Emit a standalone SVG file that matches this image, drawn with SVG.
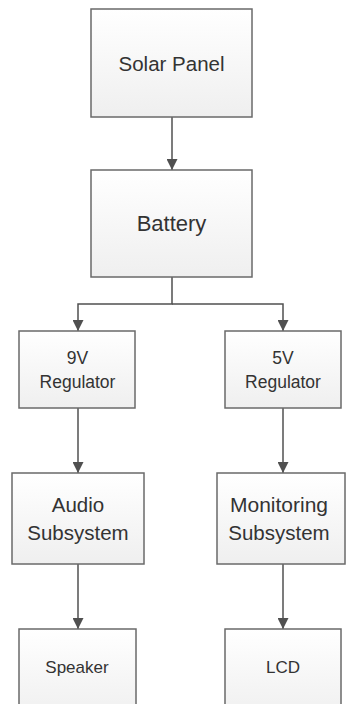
<svg xmlns="http://www.w3.org/2000/svg" width="346" height="704" viewBox="0 0 346 704">
<defs>
<linearGradient id="g" x1="0" y1="0" x2="0" y2="1">
<stop offset="0" stop-color="#ffffff"/>
<stop offset="1" stop-color="#efefef"/>
</linearGradient>
<marker id="arr" markerWidth="11" markerHeight="11" viewBox="0 0 11 11" refX="11" refY="5.5" orient="auto" markerUnits="userSpaceOnUse">
<path d="M0,0 L11,5.5 L0,11 Z" fill="#505050"/>
</marker>
<style>
.box{fill:url(#g);stroke:#6a6a6a;stroke-width:1.5}
.t{font-family:"Liberation Sans",Arial,sans-serif;fill:#333333;text-anchor:middle}
.c{fill:none;stroke:#505050;stroke-width:1.5}
</style>
</defs>
<rect width="346" height="704" fill="#ffffff"/>
<g id="connectors">
<line class="c" x1="172" y1="117" x2="172" y2="170" marker-end="url(#arr)"/>
<polyline class="c" points="172,277 172,304 78,304 78,331" marker-end="url(#arr)"/>
<polyline class="c" points="172,304 283,304 283,331" marker-end="url(#arr)"/>
<line class="c" x1="78" y1="408" x2="78" y2="473" marker-end="url(#arr)"/>
<line class="c" x1="283" y1="408" x2="283" y2="473" marker-end="url(#arr)"/>
<line class="c" x1="78" y1="564" x2="78" y2="629" marker-end="url(#arr)"/>
<line class="c" x1="283" y1="564" x2="283" y2="629" marker-end="url(#arr)"/>
</g>
<g id="solar">
<rect class="box" x="91" y="9" width="161" height="108"/>
<text class="t" x="171.5" y="71" font-size="20.5">Solar Panel</text>
</g>
<g id="battery">
<rect class="box" x="91" y="170" width="161" height="107"/>
<text class="t" x="171.5" y="231" font-size="22">Battery</text>
</g>
<g id="reg9">
<rect class="box" x="19" y="331" width="116" height="77"/>
<text class="t" x="77.5" y="364" font-size="17.5">9V</text>
<text class="t" x="77.5" y="388" font-size="17.5">Regulator</text>
</g>
<g id="reg5">
<rect class="box" x="225" y="331" width="116" height="77"/>
<text class="t" x="283" y="364" font-size="17.5">5V</text>
<text class="t" x="283" y="388" font-size="17.5">Regulator</text>
</g>
<g id="audio">
<rect class="box" x="12" y="473" width="132" height="91"/>
<text class="t" x="78" y="512" font-size="20.5">Audio</text>
<text class="t" x="78" y="540" font-size="20.5">Subsystem</text>
</g>
<g id="monitoring">
<rect class="box" x="217" y="473" width="128" height="91"/>
<text class="t" x="279" y="512" font-size="21">Monitoring</text>
<text class="t" x="279" y="540" font-size="20.5">Subsystem</text>
</g>
<g id="speaker">
<rect class="box" x="19" y="629" width="117" height="90"/>
<text class="t" x="77" y="673" font-size="17">Speaker</text>
</g>
<g id="lcd">
<rect class="box" x="225" y="629" width="116" height="90"/>
<text class="t" x="283" y="673" font-size="17">LCD</text>
</g>
</svg>
